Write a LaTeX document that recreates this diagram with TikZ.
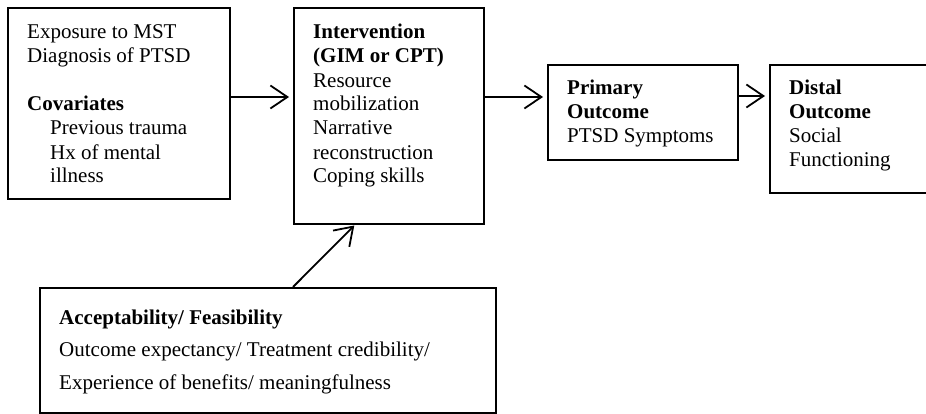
\documentclass[tikz,border=0pt]{standalone}
\usepackage{fontspec}
\setmainfont{Liberation Serif}
\usetikzlibrary{arrows.meta}
\begin{document}
\begin{tikzpicture}[x=1pt,y=-1pt,
  box/.style={draw, line width=1.8pt, rectangle, inner sep=0pt, anchor=north west},
  txt/.style={align=left, inner sep=0pt, anchor=base west,
    font=\fontsize{21}{24}\selectfont},
  flow/.style={line width=1.8pt, -{Straight Barb[length=17pt,width=23pt,line width=1.8pt]}, shorten >=4pt}]
\useasboundingbox (0,0) rectangle (926,414);

% boxes
\node[box, minimum width=222pt, minimum height=191pt] (exp) at (7,7) {};
\node[box, minimum width=190pt, minimum height=216pt] (int) at (293,7) {};
\node[box, minimum width=190pt, minimum height=95pt] (pri) at (547,64) {};
\node[box, minimum width=170pt, minimum height=128pt] (dis) at (769,64) {};
\node[box, minimum width=456pt, minimum height=125pt] (acc) at (39,287) {};

% box texts (placed by the baseline of their last line)
\node[txt] (exptxt) at (27,183) {Exposure to MST\\Diagnosis of PTSD\\[24pt]\textbf{Covariates}\\
  \hspace{23pt}Previous trauma\\\hspace{23pt}Hx of mental\\\hspace{23pt}illness};
\node[txt] (inttxt) at (313,183) {\textbf{Intervention}\\\textbf{(GIM or CPT)}\\Resource\\mobilization\\
  Narrative\\reconstruction\\Coping skills};
\node[txt] (pritxt) at (567,143) {\textbf{Primary}\\\textbf{Outcome}\\PTSD Symptoms};
\node[txt] (distxt) at (789,167) {\textbf{Distal}\\\textbf{Outcome}\\Social\\Functioning};
\node[txt, font=\fontsize{21}{32.5}\selectfont] (acctxt) at (59,389)
  {\textbf{Acceptability/ Feasibility}\\Outcome expectancy/ Treatment credibility/\\
   Experience of benefits/ meaningfulness};

% connectors
\coordinate (accout) at (acc.north west -| 293,0);
\coordinate (intin) at (int.south west -| 355,0);
\draw[flow] (exp.east |- 0,97) -- (int.west |- 0,97);
\draw[flow] (int.east |- 0,97) -- (pri.west |- 0,97);
\draw[flow] (pri.east |- 0,96) -- (dis.west |- 0,96);
\draw[flow, shorten >=1pt] (accout) -- (intin);
\end{tikzpicture}
\end{document}
